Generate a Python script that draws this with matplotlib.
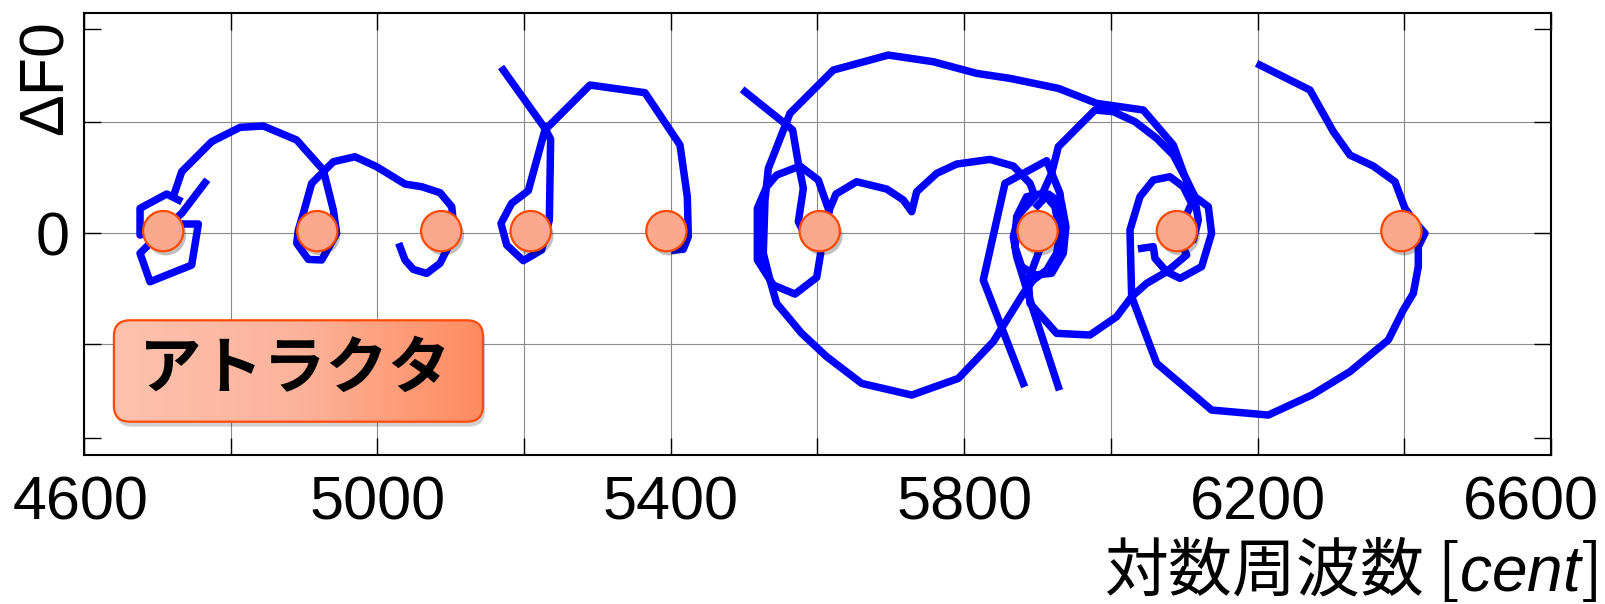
import numpy as np
import matplotlib
matplotlib.use('Agg')
import matplotlib.pyplot as plt
from matplotlib.patches import FancyBboxPatch
from matplotlib.colors import LinearSegmentedColormap
from matplotlib.transforms import ScaledTranslation
import matplotlib.patheffects as pe

plt.rcParams['font.family'] = ['Liberation Sans', 'Noto Sans CJK JP', 'DejaVu Sans']
plt.rcParams['mathtext.fontset'] = 'custom'
plt.rcParams['mathtext.it'] = 'Liberation Sans:italic'
plt.rcParams['mathtext.rm'] = 'Liberation Sans'

# ---------------- data ----------------
attractor_cent = [4708, 4918, 5087, 5209, 5394, 5603, 5900, 6090, 6396]
attractor_df0 = [0.02, 0.02, 0.02, 0.02, 0.02, 0.02, 0.02, 0.02, 0.02]

traj1_cent = [4765.0, 4733.2, 4708.2, 4676.4, 4690.0, 4746.8, 4755.9, 4733.2, 4708.2, 4676.4, 4676.4, 4712.7, 4729.0]
traj1_df0 = [0.456, 0.180, 0.030, -0.180, -0.436, -0.286, 0.084, 0.084, 0.030, -0.015, 0.225, 0.354, 0.300]

traj2_cent = [4722.0, 4733.2, 4774.1, 4812.7, 4844.5, 4889.9, 4926.3, 4939.9, 4944.5, 4924.0, 4905.9, 4890.0,
              4892.2, 4899.0, 4910.4, 4928.6, 4939.9, 4969.5, 4999.0, 5037.6, 5060.4, 5085.4, 5101.3, 5103.5,
              5096.7, 5085.4, 5067.2, 5049.0, 5037.6, 5030.8]
traj2_df0 = [0.336, 0.555, 0.826, 0.955, 0.967, 0.841, 0.570, 0.210, 0.000, -0.240, -0.235, -0.090,
             0.030, 0.180, 0.450, 0.570, 0.645, 0.690, 0.600, 0.444, 0.420, 0.366, 0.240, 0.105,
             -0.120, -0.270, -0.361, -0.325, -0.240, -0.120]

traj3_cent = [5171.6, 5228.4, 5236.2, 5234.4, 5223.9, 5198.9, 5176.2, 5168.5, 5183.0, 5205.7, 5228.4,
              5289.8, 5364.8, 5412.5, 5422.5, 5423.9, 5417.0, 5405.7]
traj3_df0 = [1.471, 0.946, 0.847, 0.120, -0.150, -0.246, -0.105, 0.090, 0.270, 0.384, 0.931,
             1.336, 1.267, 0.796, 0.330, -0.030, -0.144, -0.150]

traj4_cent = [5501.2, 5558.0, 5566.1, 5573.9, 5580.7, 5573.9, 5582.9]
traj4_df0 = [1.276, 0.976, 0.931, 0.630, 0.405, 0.105, -0.015]

traj5_cent = [5603.4, 5616.1, 5601.1, 5576.1, 5544.3, 5530.7, 5518.0, 5518.0, 5539.8, 5569.3, 5598.9,
              5604.3, 5603.4]
traj5_df0 = [0.015, 0.195, 0.480, 0.606, 0.525, 0.420, 0.225, -0.240, -0.466, -0.547, -0.397,
             -0.180, -0.060]

traj6_cent = [5610.2, 5625.2, 5653.4, 5694.3, 5717.0, 5728.4, 5735.2, 5762.5, 5789.7, 5835.2, 5867.0,
              5889.7, 5896.5, 5876.0, 5869.2, 5878.3, 5896.5, 5919.2, 5935.1, 5938.7, 5932.8, 5914.7, 5900.0]
traj6_df0 = [0.120, 0.354, 0.465, 0.399, 0.300, 0.195, 0.375, 0.540, 0.624, 0.666, 0.606,
             0.450, 0.330, 0.180, -0.120, -0.300, -0.375, -0.360, -0.180, 0.060, 0.270, 0.354, 0.250]

traj7_cent = [6041.9, 6057.8, 6060.1, 6076.0, 6094.2, 6123.7, 6137.3, 6132.8, 6114.6, 6101.0, 6085.1,
              6044.2, 5980.6, 5928.3, 5862.4, 5817.0, 5757.9, 5696.6, 5621.6, 5562.5, 5555.7, 5533.0,
              5528.4, 5526.1, 5535.2, 5544.3, 5578.4, 5612.5, 5660.2, 5728.4, 5792.0, 5839.7, 5880.6,
              5894.2, 5912.4, 5926.0, 5930.6, 5923.7, 5907.8, 5885.1, 5871.5, 5869.2]
traj7_df0 = [-0.135, -0.120, -0.225, -0.346, -0.406, -0.300, 0.000, 0.240, 0.330, 0.510, 0.795,
             1.111, 1.171, 1.306, 1.396, 1.441, 1.546, 1.606, 1.471, 1.081, 0.967, 0.585,
             0.300, -0.180, -0.421, -0.631, -0.901, -1.111, -1.352, -1.457, -1.307, -0.976, -0.541,
             -0.421, -0.331, -0.180, 0.000, 0.240, 0.360, 0.330, 0.150, -0.060]

traj8_cent = [5907.8, 5919.2, 5928.3, 5978.3, 6003.3, 6032.8, 6062.4, 6085.1, 6103.3, 6114.6, 6119.2,
              6112.4, 6094.2]
traj8_df0 = [0.375, 0.540, 0.780, 1.111, 1.096, 1.006, 0.856, 0.705, 0.480, 0.300, 0.120,
             -0.060, -0.030]

traj9_cent = [5880.6, 5826.0, 5855.6, 5912.4, 5930.6, 5935.1, 5915.0]
traj9_df0 = [-1.352, -0.421, 0.450, 0.654, 0.360, 0.120, 0.000]

traj10_cent = [5928.3, 5889.7, 5871.5, 5867.0, 5873.8]
traj10_df0 = [-1.382, -0.601, -0.210, -0.030, 0.150]

traj11_cent = [5901.0, 5887.4, 5889.7, 5926.0, 5971.5, 6007.8, 6028.3, 6048.7, 6076.0, 6103.3, 6094.2]
traj11_df0 = [-0.180, -0.420, -0.631, -0.901, -0.916, -0.751, -0.571, -0.451, -0.346, -0.195, -0.060]

traj12_cent = [6203.2, 6271.4, 6303.2, 6325.9, 6357.7, 6387.3, 6400.9, 6412.3, 6428.2, 6419.1, 6419.1,
               6412.3, 6398.6, 6378.2, 6325.9, 6273.7, 6214.6, 6137.3, 6062.4, 6028.3, 6026.0, 6039.6,
               6057.8, 6080.5, 6098.7, 6110.1, 6095.0]
traj12_df0 = [1.516, 1.291, 0.916, 0.705, 0.606, 0.465, 0.225, 0.120, 0.000, -0.120, -0.300,
              -0.541, -0.691, -0.961, -1.246, -1.457, -1.637, -1.592, -1.171, -0.571, 0.030, 0.330,
              0.480, 0.510, 0.420, 0.270, 0.050]

trajectories = [
    (traj1_cent, traj1_df0), (traj2_cent, traj2_df0), (traj3_cent, traj3_df0),
    (traj4_cent, traj4_df0), (traj5_cent, traj5_df0), (traj6_cent, traj6_df0),
    (traj7_cent, traj7_df0), (traj8_cent, traj8_df0), (traj9_cent, traj9_df0),
    (traj10_cent, traj10_df0), (traj11_cent, traj11_df0), (traj12_cent, traj12_df0),
]

x_ticks = [4600, 4800, 5000, 5200, 5400, 5600, 5800, 6000, 6200, 6400, 6600]
x_ticklabels = ['4600', '', '5000', '', '5400', '', '5800', '', '6200', '', '6600']
y_ticks = [-1, 0, 1]
y_ticklabels = ['', '0', '']
y_minor_ticks = [-1.84, 1.84]

x_label = '対数周波数 [$\\mathit{cent}$]'
y_label = 'ΔF0'
box_label = 'アトラクタ'

# ---------------- figure ----------------
W, H = 1606, 604
fig = plt.figure(figsize=(W / 100, H / 100), dpi=100)
ax = fig.add_axes([84 / W, 149 / H, 1467 / W, 442 / H])

for cx, cy in trajectories:
    ax.plot(cx, cy, color='#0000FF', lw=5.4, solid_joinstyle='round', zorder=3)

ax.plot(attractor_cent, attractor_df0, linestyle='none', marker='o', ms=29,
        mfc='#FBA88C', mec='#FF4800', mew=1.6, zorder=5,
        path_effects=[pe.SimplePatchShadow(offset=(2, -3), shadow_rgbFace='k', alpha=0.25), pe.Normal()])

ax.set_xlim(4600, 6600)
ax.set_ylim(-1.997, 1.985)
ax.set_xticks(x_ticks)
ax.set_xticklabels(x_ticklabels)
ax.set_yticks(y_ticks)
ax.set_yticklabels(y_ticklabels)
ax.set_yticks(y_minor_ticks, minor=True)
ax.tick_params(which='both', direction='in', top=True, right=True, length=12, width=1.0,
               labelsize=44, colors='black')
ax.tick_params(axis='x', pad=15)
ax.tick_params(axis='y', pad=10.5)
ax.grid(True, which='major', color='#8a8a8a', lw=0.8, zorder=0)
ax.set_axisbelow(True)
for s in ax.spines.values():
    s.set_linewidth(1.5)

# shift the last x tick label left so it stays inside the figure
last_lbl = ax.get_xticklabels()[-1]
last_lbl.set_transform(last_lbl.get_transform() + ScaledTranslation(-0.20, 0, fig.dpi_scale_trans))
first_lbl = ax.get_xticklabels()[0]
first_lbl.set_transform(first_lbl.get_transform() + ScaledTranslation(-0.03, 0, fig.dpi_scale_trans))

ax.set_xlabel(x_label, fontsize=46, family='Noto Sans CJK JP', ha='right', va='top')
ax.xaxis.set_label_coords(1.0314, -0.185)
ax.set_ylabel(y_label, fontsize=45, ha='center', va='center')
ax.yaxis.set_label_coords(-0.0256, 0.855)

# ---------------- label box ----------------
bx0, by0, bw, bh = 112.9, 604 - 422.7, 371.1, 103.4
bax = fig.add_axes([bx0 / W, by0 / H, bw / W, bh / H])
bax.set_axis_off()
shadow = FancyBboxPatch((3, -4), bw - 2, bh - 2, boxstyle='round,pad=0,rounding_size=16',
                        fc='#000000', ec='none', alpha=0.18, clip_on=False, zorder=1)
bax.add_patch(shadow)
box = FancyBboxPatch((1, 1), bw - 2, bh - 2, boxstyle='round,pad=0,rounding_size=16',
                     fc='none', ec='#FF4A0A', lw=1.6, clip_on=False, zorder=3)
bax.add_patch(box)
cmap = LinearSegmentedColormap.from_list('boxgrad', ['#FDC2AE', '#FCB39B', '#FF8A5E'])
grad = np.linspace(0, 1, 256).reshape(1, -1)
im = bax.imshow(grad, extent=[0, bw, 0, bh], cmap=cmap, aspect='auto', zorder=2, interpolation='bilinear')
im.set_clip_path(box)
bax.set_xlim(0, bw)
bax.set_ylim(0, bh)
bax.text(26, bh / 2 + 2, box_label, fontsize=45, fontweight='bold', family='Noto Sans CJK JP',
         ha='left', va='center', color='black', zorder=4)

fig.savefig('out.png', dpi=100)
